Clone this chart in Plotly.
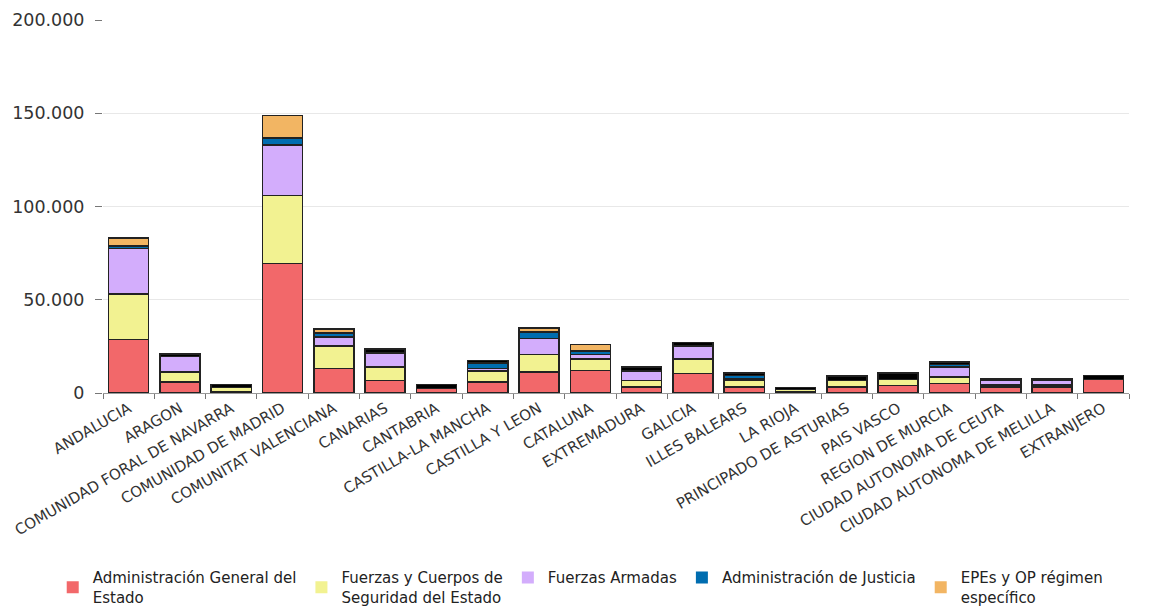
import plotly.graph_objects as go

categories = ["ANDALUCIA", "ARAGON", "COMUNIDAD FORAL DE NAVARRA", "COMUNIDAD DE MADRID",
              "COMUNITAT VALENCIANA", "CANARIAS", "CANTABRIA", "CASTILLA-LA MANCHA",
              "CASTILLA Y LEON", "CATALUNA", "EXTREMADURA", "GALICIA", "ILLES BALEARS",
              "LA RIOJA", "PRINCIPADO DE ASTURIAS", "PAIS VASCO", "REGION DE MURCIA",
              "CIUDAD AUTONOMA DE CEUTA", "CIUDAD AUTONOMA DE MELILLA", "EXTRANJERO"]

age      = [28700, 5900, 900, 69500, 13100, 6800, 2300, 5900, 11300, 12000, 3200, 10400, 3200, 800, 3200, 4100, 5000, 3200, 3200, 7200]
fcse     = [24300, 5400, 2000, 36300, 12000, 7200, 0, 5900, 9300, 6100, 3600, 7700, 3400, 1200, 3600, 3200, 3600, 1000, 1000, 0]
ffaa     = [24500, 8400, 0, 27100, 5000, 7500, 0, 1400, 8600, 2500, 5000, 7000, 900, 0, 0, 0, 5400, 2800, 2800, 0]
justicia = [1300, 0, 0, 3700, 2000, 0, 0, 3000, 3600, 1800, 0, 0, 1800, 0, 0, 0, 1400, 0, 0, 0]
epes     = [4400, 0, 0, 12200, 1900, 0, 0, 0, 2100, 3600, 0, 0, 0, 0, 0, 0, 0, 0, 0, 0]
otros    = [300, 1100, 1600, 0, 300, 2100, 2200, 1300, 300, 0, 2200, 2100, 1400, 900, 2200, 3400, 1200, 900, 900, 2300]

series = [
    ("Administración General del<br>Estado", age, "#f2686a", True),
    ("Fuerzas y Cuerpos de<br>Seguridad del Estado", fcse, "#f2f291", True),
    ("Fuerzas Armadas", ffaa, "#d3adfc", True),
    ("Administración de Justicia", justicia, "#006db0", True),
    ("EPEs y OP régimen<br>específico", epes, "#f2b563", True),
    ("Otros", otros, "#000000", False),
]

fig = go.Figure()
for name, vals, color, show in series:
    fig.add_trace(go.Bar(
        x=categories, y=vals, name=name, showlegend=False, legendgroup=name,
        marker=dict(color=color, line=dict(color="#222222", width=1.5)),
    ))
# legend entries (square swatches without outline)
for name, vals, color, show in series:
    if show:
        fig.add_trace(go.Bar(
            x=[categories[0]], y=[None], name=name, showlegend=True, legendgroup=name,
            marker=dict(color=color, line=dict(width=0)), hoverinfo="skip",
        ))

fig.update_layout(
    barmode="stack",
    bargap=0.22,
    width=1147, height=600,
    margin=dict(l=95, r=26, t=12, b=215, autoexpand=False),
    paper_bgcolor="white", plot_bgcolor="white",
    separators=",.",
    font=dict(family="DejaVu Sans", size=12, color="#333333"),
    legend=dict(orientation="h", x=-0.049, xanchor="left", y=-0.451, yanchor="top",
                font=dict(family="DejaVu Sans", size=15, color="#222222"),
                traceorder="normal", itemwidth=30),
    xaxis=dict(tickangle=-30, tickson="boundaries", ticks="outside", ticklen=5,
               tickcolor="#777777", showline=True, linecolor="#999999", automargin=False,
               tickfont=dict(size=15, family="DejaVu Sans", color="#333333")),
    yaxis=dict(range=[0, 200000], dtick=50000, tickformat=",d", ticks="outside",
               ticklen=7, tickcolor="#777777", gridcolor="#e8e8e8", zeroline=False,
               automargin=False, ticklabelstandoff=7,
               tickfont=dict(size=17.5, family="DejaVu Sans", color="#333333")),
)

fig.write_html("out.html")
